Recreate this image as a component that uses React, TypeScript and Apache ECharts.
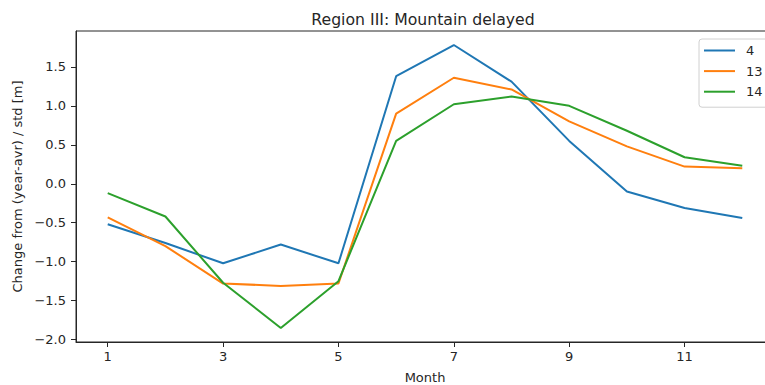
import React, { useEffect, useRef } from "react";
import * as echarts from "echarts";

const months = [1, 2, 3, 4, 5, 6, 7, 8, 9, 10, 11, 12];
const series4 = [-0.52, -0.76, -1.02, -0.78, -1.02, 1.38, 1.78, 1.31, 0.55, -0.1, -0.31, -0.44];
const series13 = [-0.43, -0.8, -1.28, -1.31, -1.28, 0.9, 1.36, 1.21, 0.8, 0.48, 0.22, 0.2];
const series14 = [-0.12, -0.42, -1.27, -1.85, -1.25, 0.55, 1.02, 1.12, 1.0, 0.68, 0.34, 0.23];
const seriesNames = ["4", "13", "14"];
const xTicks = [1, 3, 5, 7, 9, 11];
const yTicks = [-2.0, -1.5, -1.0, -0.5, 0.0, 0.5, 1.0, 1.5];

const COLORS = ["#1f77b4", "#ff7f0e", "#2ca02c"];
const FONT = "DejaVu Sans";
const INK = "#262626";

export default function App() {
  const ref = useRef<HTMLDivElement>(null);

  useEffect(() => {
    if (!ref.current) return;
    const chart = echarts.init(ref.current, undefined, { renderer: "svg" });
    const values = [series4, series13, series14];

    const axisCommon = {
      axisLine: { show: true, onZero: false, lineStyle: { color: INK, width: 1 } },
      axisTick: { show: true, length: 5, lineStyle: { color: INK, width: 1 } },
      splitLine: { show: false },
    };

    chart.setOption({
      animation: false,
      backgroundColor: "#ffffff",
      textStyle: { fontFamily: FONT },
      grid: {
        left: 76,
        top: 31,
        width: 698,
        height: 311,
        show: true,
        borderColor: INK,
        borderWidth: 1,
        containLabel: false,
        outerBoundsMode: "none",
      },
      graphic: [
        {
          type: "text",
          x: 423,
          y: 19,
          style: {
            text: "Region III: Mountain delayed",
            fontFamily: FONT,
            fontSize: 15.7,
            fill: INK,
            textAlign: "center",
            textVerticalAlign: "middle",
          },
        },
      ],
      legend: {
        orient: "vertical",
        left: 699,
        top: 39,
        data: seriesNames,
        itemWidth: 31,
        itemHeight: 14,
        itemGap: 7.6,
        padding: [5, 8, 9, 4],
        backgroundColor: "#fff",
        borderColor: "#d0d0d0",
        borderWidth: 1,
        borderRadius: 3,
        itemStyle: { opacity: 0 },
        textStyle: { fontFamily: FONT, fontSize: 13, color: INK, padding: [0, 0, 0, 6] },
      },
      xAxis: {
        type: "value",
        min: 0.45,
        max: 12.55,
        name: "Month",
        nameLocation: "middle",
        nameGap: 29,
        nameTextStyle: { fontFamily: FONT, fontSize: 13, color: INK, verticalAlign: "top" },
        ...axisCommon,
        axisTick: { ...axisCommon.axisTick, customValues: xTicks },
        axisLabel: {
          customValues: xTicks,
          fontFamily: FONT,
          fontSize: 13,
          color: INK,
          margin: 8,
        },
      },
      yAxis: {
        type: "value",
        min: -2.03,
        max: 1.96,
        name: "Change from (year-avr) / std [m]",
        nameLocation: "middle",
        nameGap: 50,
        nameTextStyle: { fontFamily: FONT, fontSize: 13, color: INK },
        ...axisCommon,
        axisTick: { ...axisCommon.axisTick, customValues: yTicks },
        axisLabel: {
          customValues: yTicks,
          fontFamily: FONT,
          fontSize: 13,
          color: INK,
          margin: 10,
          formatter: (v: number) => v.toFixed(1).replace("-", "\u2212"),
        },
      },
      series: seriesNames.map((name, i) => ({
        name,
        type: "line",
        data: months.map((m, j) => [m, values[i][j]]),
        symbol: "none",
        color: COLORS[i],
        lineStyle: { color: COLORS[i], width: 2 },
        clip: false,
      })),
    });

    return () => chart.dispose();
  }, []);

  // The axes run slightly past the right edge of the visible area, so the
  // chart canvas is wider than the clipping frame around it.
  return (
    <div
      style={{
        position: "fixed",
        left: 0,
        top: 0,
        width: 765,
        height: 385,
        overflow: "hidden",
        background: "#fff",
      }}
    >
      <div ref={ref} style={{ width: 800, height: 385 }} />
    </div>
  );
}
